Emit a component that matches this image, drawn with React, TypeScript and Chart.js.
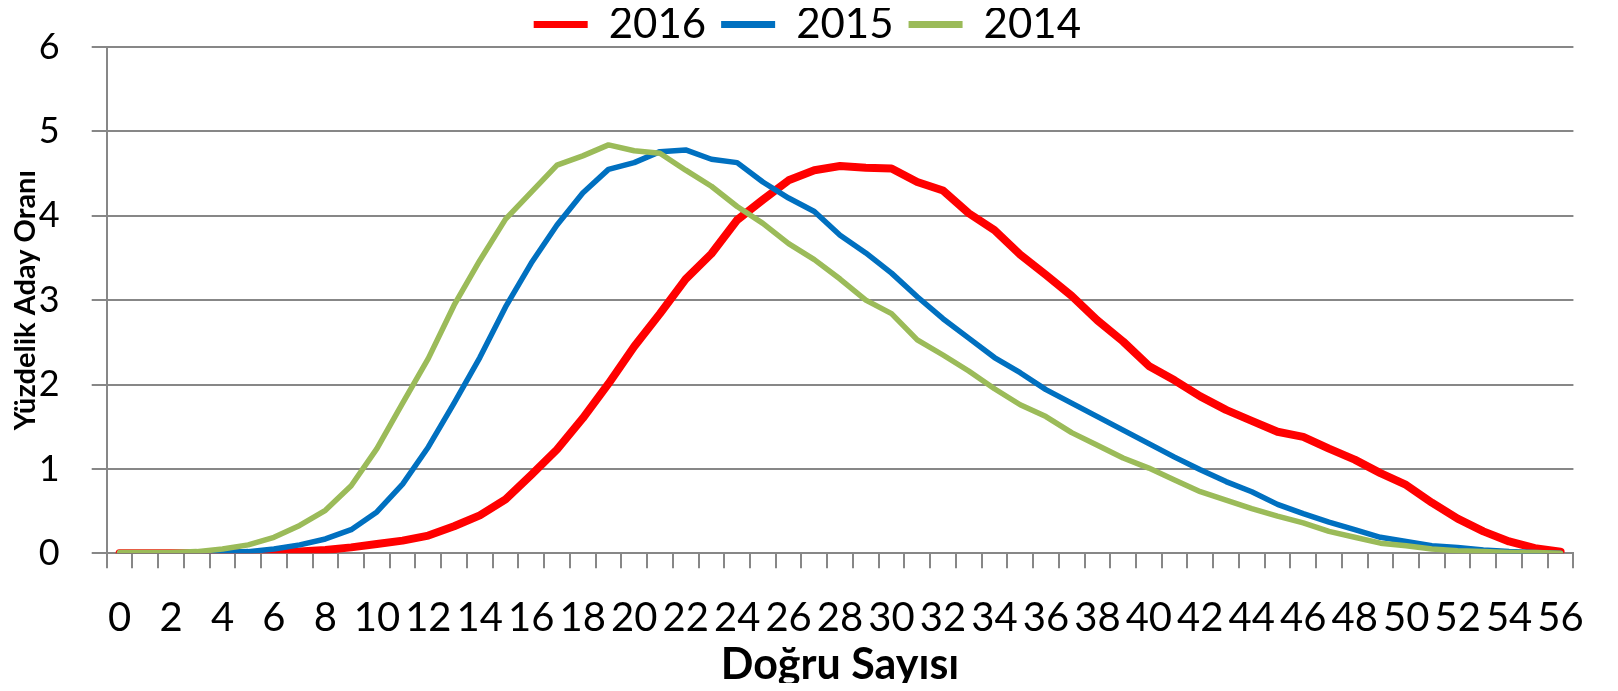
import React, { useEffect, useRef } from "react";
import { Chart, registerables } from "chart.js";

Chart.register(...registerables);

const categories = [
  "0", "1", "2", "3", "4", "5", "6", "7", "8", "9",
  "10", "11", "12", "13", "14", "15", "16", "17", "18", "19",
  "20", "21", "22", "23", "24", "25", "26", "27", "28", "29",
  "30", "31", "32", "33", "34", "35", "36", "37", "38", "39",
  "40", "41", "42", "43", "44", "45", "46", "47", "48", "49",
  "50", "51", "52", "53", "54", "55", "56",
];

const series2016 = [
  0, 0, 0, 0, 0, 0, 0.01, 0.02, 0.04, 0.07,
  0.11, 0.15, 0.21, 0.32, 0.45, 0.64, 0.93, 1.23, 1.6, 2.01,
  2.45, 2.84, 3.25, 3.55, 3.95, 4.19, 4.42, 4.54, 4.59, 4.57,
  4.56, 4.4, 4.3, 4.03, 3.83, 3.54, 3.3, 3.05, 2.76, 2.51,
  2.22, 2.05, 1.86, 1.7, 1.57, 1.44, 1.38, 1.24, 1.11, 0.95,
  0.81, 0.6, 0.41, 0.26, 0.14, 0.06, 0.02,
];

const series2015 = [
  0, 0, 0, 0.01, 0.01, 0.02, 0.05, 0.1, 0.17, 0.28,
  0.49, 0.82, 1.26, 1.78, 2.32, 2.92, 3.44, 3.89, 4.27, 4.55,
  4.63, 4.76, 4.78, 4.67, 4.63, 4.4, 4.21, 4.05, 3.77, 3.56,
  3.32, 3.04, 2.78, 2.55, 2.32, 2.14, 1.94, 1.78, 1.62, 1.46,
  1.3, 1.14, 0.99, 0.85, 0.73, 0.58, 0.47, 0.37, 0.28, 0.19,
  0.14, 0.09, 0.07, 0.04, 0.02, 0.01, 0,
];

const series2014 = [
  0.01, 0.01, 0.01, 0.02, 0.05, 0.1, 0.19, 0.33, 0.51, 0.8,
  1.24, 1.78, 2.31, 2.94, 3.47, 3.96, 4.28, 4.6, 4.71, 4.84,
  4.77, 4.74, 4.54, 4.35, 4.11, 3.91, 3.67, 3.48, 3.25, 3.0,
  2.84, 2.53, 2.35, 2.16, 1.95, 1.76, 1.62, 1.43, 1.28, 1.13,
  1.01, 0.87, 0.73, 0.63, 0.53, 0.44, 0.36, 0.26, 0.19, 0.12,
  0.09, 0.05, 0.03, 0.02, 0.01, 0.01, 0,
];

const seriesLabels = ["2016", "2015", "2014"];
const seriesColors = ["#FF0000", "#0070C0", "#9BBB59"];
const yMin = 0;
const yMax = 6;
const yStep = 1;
const xTitle = "Doğru Sayısı";
const yTitle = "Yüzdelik Aday Oranı";

const FONT = "Lato, 'Open Sans', 'DejaVu Sans', sans-serif";
const GRID = "#878787";

// Legend band height (px) and a small shift of where its contents are drawn.
const LEGEND_HEIGHT = 39;
const LEGEND_DX = 12;
const LEGEND_DY = -19.5;

const legendFit = {
  id: "legendFit",
  beforeLayout(chart: any) {
    const lg = chart.legend;
    if (lg && !lg.__patched) {
      const origFit = lg.fit;
      const origDraw = lg.draw;
      lg.fit = function () {
        origFit.call(this);
        this.height = LEGEND_HEIGHT;
      };
      lg.draw = function () {
        const t = this.top;
        const l = this.left;
        const r = this.right;
        this.top = t + LEGEND_DY;
        this.left = l + LEGEND_DX;
        this.right = r + LEGEND_DX;
        origDraw.call(this);
        this.top = t;
        this.left = l;
        this.right = r;
      };
      lg.__patched = true;
    }
  },
};

export default function App() {
  const ref = useRef<HTMLCanvasElement>(null);

  useEffect(() => {
    if (!ref.current) return;
    const chart = new Chart(ref.current, {
      type: "line",
      data: {
        labels: categories,
        datasets: [
          {
            label: seriesLabels[0],
            data: series2016,
            borderColor: seriesColors[0],
            backgroundColor: seriesColors[0],
            borderWidth: 8,
            order: 3,
          },
          {
            label: seriesLabels[1],
            data: series2015,
            borderColor: seriesColors[1],
            backgroundColor: seriesColors[1],
            borderWidth: 5.5,
            order: 2,
          },
          {
            label: seriesLabels[2],
            data: series2014,
            borderColor: seriesColors[2],
            backgroundColor: seriesColors[2],
            borderWidth: 5.5,
            order: 1,
          },
        ],
      },
      plugins: [legendFit],
      options: {
        animation: false,
        responsive: true,
        maintainAspectRatio: false,
        elements: {
          point: { radius: 0, hoverRadius: 0 },
          line: {
            tension: 0,
            fill: false,
            borderCapStyle: "round",
            borderJoinStyle: "round",
          },
        },
        layout: { padding: { top: 0, left: 0, right: 27.3, bottom: 0 } },
        plugins: {
          tooltip: { enabled: false },
          legend: {
            display: true,
            position: "top",
            reverse: true,
            labels: {
              color: "#000",
              font: { family: FONT, size: 42 },
              boxWidth: 54,
              boxHeight: 7,
              padding: 15,
              generateLabels: (c: any) => {
                const items = (Chart.defaults.plugins.legend.labels as any).generateLabels(c);
                return items.map((it: any) => ({
                  ...it,
                  lineWidth: 0,
                  fillStyle: it.strokeStyle,
                }));
              },
            },
          },
        },
        scales: {
          x: {
            type: "category",
            offset: true,
            grid: {
              offset: true,
              display: true,
              drawOnChartArea: false,
              drawTicks: true,
              tickLength: 15,
              color: GRID,
              lineWidth: 2,
            },
            border: { display: true, color: GRID, width: 2 },
            ticks: {
              autoSkip: false,
              maxRotation: 0,
              minRotation: 0,
              padding: 26,
              color: "#000",
              font: { family: FONT, size: 40 },
              callback: (_v: any, i: number) => (i % 2 === 0 ? categories[i] : ""),
            },
            title: {
              display: true,
              text: xTitle,
              color: "#000",
              font: { family: FONT, size: 43, weight: "bold" },
              padding: { top: 0, bottom: -8 },
            },
            afterFit: (s: any) => {
              s.height = 129.7;
            },
          },
          y: {
            min: yMin,
            max: yMax,
            ticks: {
              stepSize: yStep,
              padding: 32,
              color: "#000",
              font: { family: FONT, size: 36 },
            },
            grid: {
              color: GRID,
              lineWidth: 2,
              drawTicks: true,
              tickLength: 15,
            },
            border: { display: true, color: GRID, width: 2 },
            title: {
              display: true,
              text: yTitle,
              color: "#000",
              font: { family: FONT, size: 29, weight: "bold" },
              padding: { top: 0, bottom: 0 },
            },
            afterFit: (s: any) => {
              s.width = 98.7;
              s.paddingTop = 0;
              s.paddingBottom = 0;
            },
          },
        },
      },
    } as any);
    return () => chart.destroy();
  }, []);

  return (
    <div style={{ width: 1602, height: 675, position: "relative" }}>
      <canvas ref={ref} />
    </div>
  );
}
